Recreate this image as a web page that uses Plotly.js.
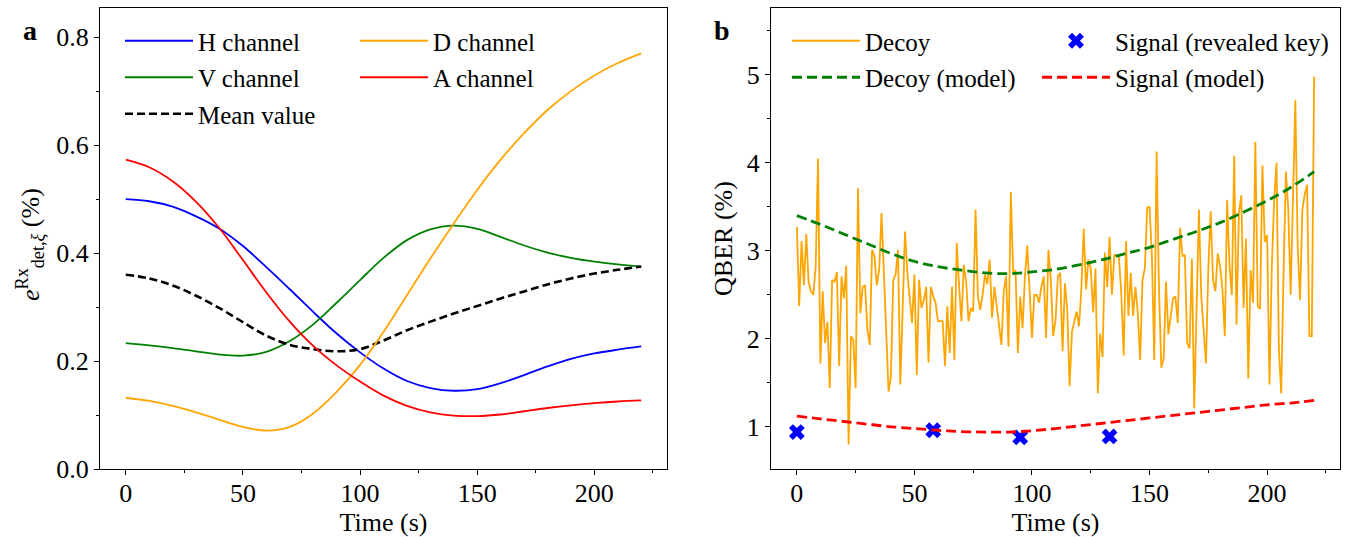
<!DOCTYPE html>
<html>
<head>
<meta charset="utf-8">
<script src="https://cdn.plot.ly/plotly-3.0.1.min.js"></script>
<style>html,body{margin:0;padding:0;background:#fff;}#chart{width:1349px;height:537px;}</style>
</head>
<body>
<div id="chart"></div>
<script>
// ---------- Panel a data (read every 10 s) ----------
const chTime = [0,10,20,30,40,50,60,70,80,90,100,110,120,130,140,150,160,170,180,190,200,210,220];
const hChannel = [0.500,0.496,0.486,0.468,0.445,0.413,0.374,0.333,0.291,0.251,0.216,0.186,0.163,0.150,0.145,0.148,0.159,0.174,0.190,0.204,0.214,0.221,0.227];
const vChannel = [0.233,0.229,0.224,0.218,0.212,0.210,0.217,0.237,0.268,0.308,0.350,0.391,0.424,0.444,0.451,0.445,0.430,0.414,0.401,0.391,0.384,0.379,0.375];
const dChannel = [0.132,0.126,0.117,0.105,0.091,0.078,0.071,0.078,0.103,0.143,0.193,0.254,0.322,0.390,0.455,0.517,0.573,0.622,0.665,0.700,0.729,0.752,0.770];
const aChannel = [0.573,0.559,0.533,0.495,0.446,0.387,0.327,0.273,0.228,0.192,0.162,0.136,0.117,0.105,0.099,0.098,0.101,0.107,0.113,0.118,0.122,0.125,0.127];
const meanValue = [0.360,0.353,0.340,0.321,0.298,0.272,0.247,0.230,0.222,0.218,0.222,0.238,0.257,0.273,0.288,0.302,0.316,0.329,0.342,0.353,0.362,0.369,0.375];

// ---------- Panel b data ----------
// Decoy QBER (%), one sample per second from t = 0 s
const decoy = [3.27,2.37,3.11,2.61,3.19,2.64,2.54,2.50,2.82,4.05,
1.72,2.54,1.95,2.19,1.44,2.67,2.65,2.76,1.69,2.71,
2.46,2.83,0.80,2.03,1.99,1.44,3.71,2.29,2.59,2.61,
2.10,1.93,3.01,2.94,2.61,2.78,3.43,2.78,2.08,1.40,
1.57,2.67,2.73,3.01,1.48,2.37,3.22,2.75,2.48,2.18,
2.73,1.59,2.67,2.35,2.44,2.59,1.73,2.59,2.48,2.41,
2.20,2.20,2.20,1.69,2.37,1.84,2.59,1.76,3.09,2.59,
2.20,2.84,2.65,2.20,2.35,2.31,3.47,2.48,2.33,2.50,
2.73,2.62,2.90,2.24,2.59,2.37,2.12,1.93,2.54,2.71,
1.91,3.67,2.75,2.78,1.84,2.48,2.12,2.71,3.06,2.48,
2.01,2.50,2.50,2.41,2.59,2.71,2.01,3.01,2.67,2.03,
2.20,2.71,2.75,1.86,2.63,2.33,1.46,2.08,2.18,2.31,
2.14,2.56,3.25,2.56,2.90,2.80,2.30,2.80,1.38,2.06,
1.79,2.98,2.59,3.16,2.50,2.95,2.95,2.92,2.50,1.81,
3.11,2.26,2.75,2.26,2.59,2.29,1.76,2.67,2.80,3.49,
3.50,2.94,1.76,4.13,2.59,1.67,1.78,2.65,2.05,2.25,
2.46,2.48,2.18,3.26,2.94,2.95,1.95,1.89,2.91,1.21,
2.50,3.47,2.48,2.10,1.72,2.80,3.45,2.67,2.54,2.97,
2.82,2.56,2.03,3.58,2.84,2.50,4.08,2.16,3.43,3.63,
2.35,3.14,1.55,2.78,2.41,4.24,2.37,2.34,3.97,3.10,
3.18,1.48,2.82,3.58,4.00,1.88,1.38,2.75,3.90,3.47,
2.50,3.58,4.71,3.05,2.44,3.47,3.64,3.75,2.03,2.03,
4.98];
const decoyTime = decoy.map((_, i) => i);

const modelTime = [0,10,20,30,40,50,60,70,80,90,100,110,120,130,140,150,160,170,180,190,200,210,220];
const decoyModel = [3.40,3.30,3.19,3.08,2.97,2.88,2.82,2.78,2.75,2.74,2.76,2.79,2.84,2.90,2.97,3.04,3.13,3.22,3.32,3.44,3.57,3.72,3.90];
const signalModel = [1.12,1.09,1.06,1.03,1.00,0.98,0.96,0.945,0.94,0.94,0.955,0.98,1.01,1.04,1.07,1.10,1.13,1.16,1.19,1.22,1.25,1.27,1.30];
const revealTime = [0,58,95,133];
const revealQber = [0.94,0.96,0.88,0.89];

// ---------- figure ----------
const W = 1349, H = 537;
const FONT = 'Liberation Serif, DejaVu Serif, serif';
const FS = 26;
const px = v => v / W;
const py = v => 1 - v / H;

function lineTrace(x, y, name, color, xa, ya, legend, dash, width) {
  return {x: x, y: y, name: name, type: 'scatter', mode: 'lines',
    line: {color: color, width: width || 1.8, dash: dash || 'solid', shape: 'spline', smoothing: 1.0},
    xaxis: xa, yaxis: ya, legend: legend, legendgroup: name, hoverinfo: 'skip'};
}

const traces = [
  lineTrace(chTime, hChannel, 'H channel', '#0000ff', 'x', 'y', 'legend'),
  lineTrace(chTime, vChannel, 'V channel', '#008000', 'x', 'y', 'legend'),
  lineTrace(chTime, meanValue, 'Mean value', '#000000', 'x', 'y', 'legend', '8px,4px', 2.6),
  lineTrace(chTime, dChannel, 'D channel', '#ffa500', 'x', 'y', 'legend2'),
  lineTrace(chTime, aChannel, 'A channel', '#ff0000', 'x', 'y', 'legend2'),
  {x: decoyTime, y: decoy, name: 'Decoy', type: 'scatter', mode: 'lines',
   line: {color: '#ffa500', width: 1.8}, xaxis: 'x2', yaxis: 'y2', legend: 'legend3', legendgroup: 'Decoy', hoverinfo: 'skip'},
  lineTrace(modelTime, decoyModel, 'Decoy (model)', '#008000', 'x2', 'y2', 'legend3', '10px,5px', 2.8),
  {x: revealTime, y: revealQber, name: 'Signal (revealed key)', type: 'scatter', mode: 'markers',
   marker: {symbol: 'x', size: 14, color: '#0000ff', line: {width: 0}},
   xaxis: 'x2', yaxis: 'y2', legend: 'legend4', legendgroup: 'Sig', hoverinfo: 'skip'},
  lineTrace(modelTime, signalModel, 'Signal (model)', '#ff0000', 'x2', 'y2', 'legend4', '10px,5px', 2.8)
];

const tickFont = {family: FONT, size: FS, color: '#000'};
function axis(extra) {
  return Object.assign({
    showline: true, linecolor: '#000', linewidth: 1.1, mirror: true,
    ticks: 'outside', ticklen: 5, tickwidth: 1, tickcolor: '#000',
    showgrid: false, zeroline: false, tickfont: tickFont, automargin: false
  }, extra);
}

const yTop = py(8), yBot = py(469);
const legendBase = {bgcolor: 'rgba(0,0,0,0)', borderwidth: 0, font: {family: FONT, size: 25, color: '#000'},
  xanchor: 'left', yanchor: 'top', itemwidth: 68, tracegroupgap: 1, traceorder: 'grouped', itemclick: false};

const layout = {
  width: W, height: H, autosize: false,
  margin: {l: 0, r: 0, t: 0, b: 0},
  paper_bgcolor: '#fff', plot_bgcolor: '#fff',
  font: {family: FONT, color: '#000'},
  showlegend: true,
  xaxis: axis({domain: [px(100), px(667)], anchor: 'y', range: [-11, 231], tickmode: 'linear', tick0: 0, dtick: 50,
    ticklabelstandoff: -4,
    minor: {ticks: 'outside', ticklen: 3, tickcolor: '#000', dtick: 25, tick0: 0, showgrid: false},
    title: {text: 'Time (s)', font: {family: FONT, size: FS}, standoff: 2}}),
  yaxis: axis({domain: [yBot, yTop], anchor: 'x', range: [0, 0.854], tickmode: 'linear', tick0: 0, dtick: 0.2, tickformat: '.1f',
    minor: {ticks: 'outside', ticklen: 3, tickcolor: '#000', dtick: 0.1, tick0: 0, showgrid: false}}),
  xaxis2: axis({domain: [px(771), px(1340)], anchor: 'y2', range: [-11, 231], tickmode: 'linear', tick0: 0, dtick: 50,
    ticklabelstandoff: -4,
    minor: {ticks: 'outside', ticklen: 3, tickcolor: '#000', dtick: 25, tick0: 0, showgrid: false},
    title: {text: 'Time (s)', font: {family: FONT, size: FS}, standoff: 2}}),
  yaxis2: axis({domain: [yBot, yTop], anchor: 'x2', range: [0.52, 5.76], tickmode: 'linear', tick0: 1, dtick: 1,
    minor: {ticks: 'outside', ticklen: 3, tickcolor: '#000', dtick: 0.5, tick0: 0.5, showgrid: false},
    title: {text: 'QBER (%)', font: {family: FONT, size: FS}, standoff: 6}}),
  legend: Object.assign({}, legendBase, {x: px(120), y: py(18)}),
  legend2: Object.assign({}, legendBase, {x: px(355), y: py(18)}),
  legend3: Object.assign({}, legendBase, {x: px(787), y: py(18)}),
  legend4: Object.assign({}, legendBase, {x: px(1037), y: py(18)}),
  annotations: [
    {text: '<i>e</i><sup>Rx</sup><sub>det,<i>ξ</i></sub> (%)', textangle: -90, xref: 'paper', yref: 'paper',
     x: px(30), y: py(245), xanchor: 'center', yanchor: 'middle', showarrow: false,
     font: {family: FONT, size: FS, color: '#000'}},
    {text: '<b>a</b>', xref: 'paper', yref: 'paper', x: px(30), y: py(30), xanchor: 'center', yanchor: 'middle',
     showarrow: false, font: {family: FONT, size: 28, color: '#000'}},
    {text: '<b>b</b>', xref: 'paper', yref: 'paper', x: px(722), y: py(30), xanchor: 'center', yanchor: 'middle',
     showarrow: false, font: {family: FONT, size: 28, color: '#000'}}
  ]
};

Plotly.newPlot('chart', traces, layout, {staticPlot: true, displayModeBar: false});
</script>
</body>
</html>
